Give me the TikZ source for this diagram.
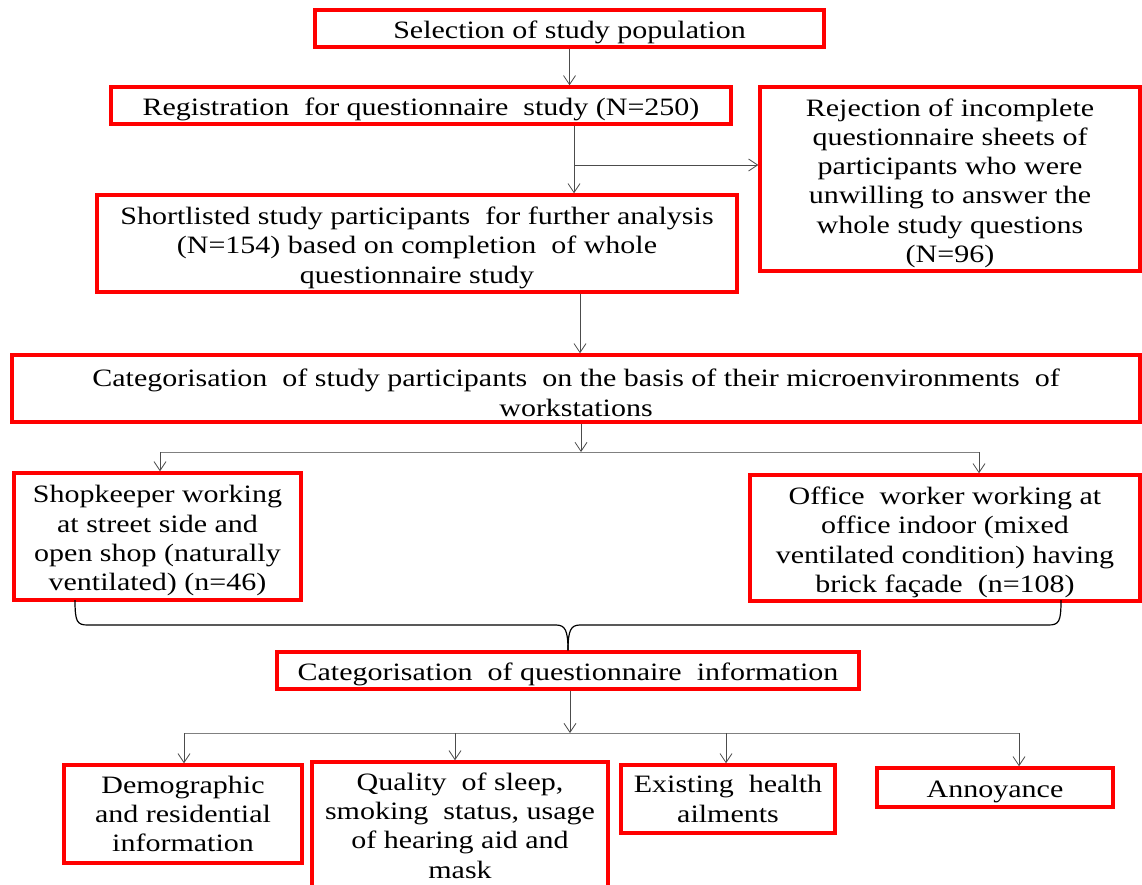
\documentclass[tikz,border=0pt]{standalone}
\usepackage{fontspec}
\setmainfont{Liberation Serif}
\newfontfamily\tnr[FakeStretch=1.2]{Liberation Serif}
\usetikzlibrary{arrows.meta}
\newcommand\upstrut{\rule{0pt}{26pt}}
\begin{document}
\begin{tikzpicture}[x=1pt,y=-1pt,
  box/.style={draw=red, line width=3.5pt, align=center, inner sep=2pt,
    font=\tnr\fontsize{25}{29.3}\selectfont},
  arr/.style={-{Straight Barb[length=9pt,width=12pt]}, line width=0.8pt, draw=black!70},
  ln/.style={line width=1pt, draw=black!50}]
\useasboundingbox (0,0) rectangle (1142,884);

\node[box, minimum width=509, minimum height=37] (sel) at (569.5,28.5) {\upstrut Selection of study population};
\node[box, minimum width=620, minimum height=37] (reg) at (421,105.5) {\upstrut Registration\ \ for questionnaire\ \ study (N=250)};
\node[box, minimum width=380, minimum height=184] (rej) at (950,179) {\upstrut Rejection of incomplete\\questionnaire sheets of\\participants who were\\unwilling to answer the\\whole study questions\\(N=96)};
\node[box, minimum width=640, minimum height=97] (sl) at (417,243.5) {\upstrut Shortlisted study participants\ \ for further analysis\\(N=154) based on completion\ \ of whole\\questionnaire study};
\node[box, minimum width=1128, minimum height=67] (cat) at (576,388.5) {\upstrut Categorisation\ \ of study participants\ \ on the basis of their microenvironments\ \ of\\workstations};
\node[box, minimum width=287, minimum height=127] (shop) at (157.5,536.5) {\upstrut Shopkeeper working\\at street side and\\open shop (naturally\\ventilated) (n=46)};
\node[box, minimum width=390, minimum height=126] (off) at (945,538) {\upstrut Office\ \ worker working at\\office indoor (mixed\\ventilated condition) having\\brick façade\ \ (n=108)};
\node[box, minimum width=582, minimum height=37] (cq) at (568,670.5) {\upstrut Categorisation\ \ of questionnaire\ \ information};
\node[box, minimum width=238, minimum height=98] (dem) at (183,814) {Demographic\\and residential\\information};
\node[box, minimum width=296, minimum height=127] (qual) at (460,825.5) {Quality\ \ of sleep,\\smoking\ \ status, usage\\of hearing aid and\\mask};
\node[box, minimum width=214, minimum height=68] (ex) at (728,799) {Existing\ \ health\\ailments};
\node[box, minimum width=236, minimum height=39] (ann) at (995,787.5) {\upstrut Annoyance};

% top arrows
\draw[arr] (sel.south) -- (sel.south |- reg.north);
\coordinate (xA) at (574,0);
\draw[arr] (reg.south -| xA) -- (sl.north -| xA);
\coordinate (j1) at (574,165);
\draw[arr] (j1) -- (j1 -| rej.west);
\coordinate (xB) at (580,0);
\draw[arr] (sl.south -| xB) -- (cat.north -| xB);

% split to two groups
\coordinate (xC) at (581,0);
\coordinate (h1) at (160,452);
\coordinate (h2) at (979,452);
\draw[arr] (cat.south -| xC) -- (h1 -| xC);
\draw[ln] (h1) -- (h2);
\draw[arr] (h1) -- (h1 |- shop.north);
\draw[arr] (h2) -- (h2 |- off.north);

% brace
\coordinate (b1) at (75,600);
\coordinate (b2) at (1061,600);
\coordinate (xT) at (568,0);
\coordinate (bt) at (cq.north -| xT);
\draw[line width=1.2pt]
  (b1) .. controls (75,622) and (77,625) .. (88,625) -- (556,625)
  .. controls (565,625) and (568,630) .. (bt);
\draw[line width=1.2pt]
  (b2) .. controls (1061,622) and (1059,625) .. (1048,625) -- (580,625)
  .. controls (571,625) and (568,630) .. (bt);

% split to four categories
\coordinate (xD) at (570,0);
\coordinate (k1) at (184,733);
\coordinate (k2) at (455,733);
\coordinate (k3) at (726,733);
\coordinate (k4) at (1019,733);
\draw[arr] (cq.south -| xD) -- (k1 -| xD);
\draw[ln] (k1) -- (k4);
\draw[arr] (k1) -- (k1 |- dem.north);
\draw[arr] (k2) -- (k2 |- qual.north);
\draw[arr] (k3) -- (k3 |- ex.north);
\draw[arr] (k4) -- (k4 |- ann.north);
\end{tikzpicture}
\end{document}
